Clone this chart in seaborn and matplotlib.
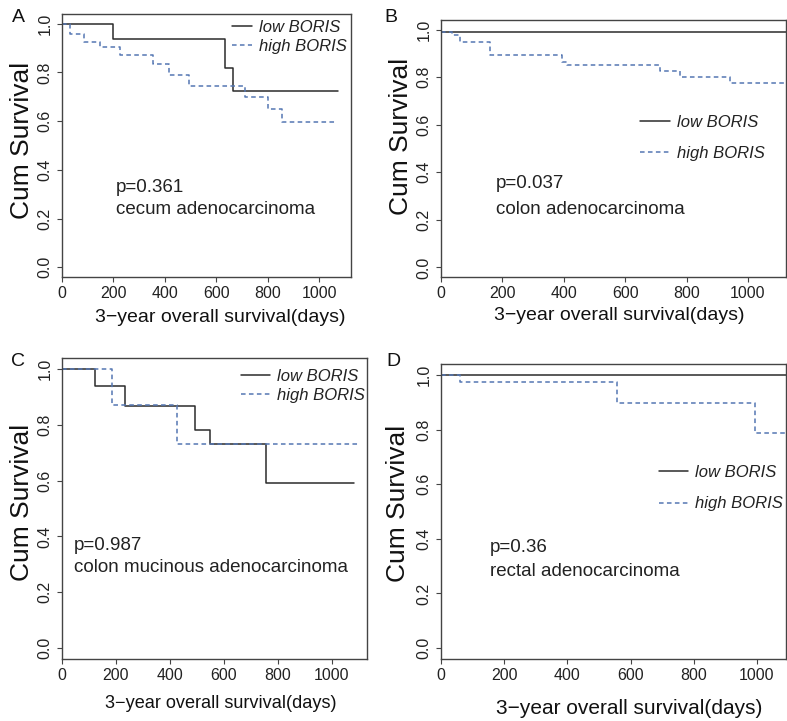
import numpy as np
import pandas as pd
import matplotlib
matplotlib.use("Agg")
import matplotlib.pyplot as plt
import seaborn as sns

# ---------------- data ----------------
groups = ["low BORIS", "high BORIS"]
x_ticks = [0, 200, 400, 600, 800, 1000]
y_ticks = [0.0, 0.2, 0.4, 0.6, 0.8, 1.0]

# Panel A: cecum adenocarcinoma
a_low_days = [0, 200, 634, 664, 1074]
a_low_surv = [1.0, 0.937, 0.819, 0.722, 0.722]
a_high_days = [0, 32, 84, 149, 226, 353, 418, 495, 712, 800, 854, 1067]
a_high_surv = [1.0, 0.958, 0.927, 0.903, 0.873, 0.834, 0.791, 0.746, 0.698, 0.650, 0.596, 0.596]

# Panel B: colon adenocarcinoma
b_low_days = [0, 1124]
b_low_surv = [0.988, 0.988]
b_high_days = [0, 35, 62, 159, 393, 409, 713, 778, 940, 1124]
b_high_surv = [0.988, 0.976, 0.948, 0.892, 0.865, 0.850, 0.827, 0.800, 0.776, 0.776]

# Panel C: colon mucinous adenocarcinoma
c_low_days = [0, 121, 234, 493, 548, 757, 1080]
c_low_surv = [1.0, 0.938, 0.866, 0.781, 0.730, 0.592, 0.592]
c_high_days = [0, 185, 425, 1102]
c_high_surv = [1.0, 0.872, 0.730, 0.730]

# Panel D: rectal adenocarcinoma
d_low_days = [0, 1092]
d_low_surv = [1.0, 1.0]
d_high_days = [0, 60, 556, 993, 1092]
d_high_surv = [1.0, 0.973, 0.899, 0.786, 0.786]

letters = ["A", "B", "C", "D"]
p_texts = ["p=0.361", "p=0.037", "p=0.987", "p=0.36"]
sub_texts = ["cecum adenocarcinoma", "colon adenocarcinoma",
             "colon mucinous adenocarcinoma", "rectal adenocarcinoma"]

# ---------------- style ----------------
sns.set_style("white")
plt.rcParams["font.family"] = ["Liberation Sans", "DejaVu Sans"]

W, H = 787, 721
fig = plt.figure(figsize=(W / 100, H / 100), dpi=100)

def fx(px):
    return px / W

def fy(py):
    return 1 - py / H

LOW_C = "#2b2b2b"
HIGH_C = "#5577b3"
FRAME_C = "#444444"

# layout in pixels
panels = [
    dict(l=62, r=351, t=14, b=277, xmax=1124,
         low=(a_low_days, a_low_surv), high=(a_high_days, a_high_surv),
         leg=(232, 37, 20, 0.27), ann=(116, 187, 209),
         xlab=(220, 318, 14.0), ylab=(22, 140), letter=(18, 17)),
    dict(l=441, r=786, t=20, b=277, xmax=1124,
         low=(b_low_days, b_low_surv), high=(b_high_days, b_high_surv),
         leg=(640, 138, 30, 0.95), ann=(496, 184, 209),
         xlab=(619, 316, 14.0), ylab=(401, 136), letter=(391, 17)),
    dict(l=62, r=367, t=358, b=659, xmax=1130,
         low=(c_low_days, c_low_surv), high=(c_high_days, c_high_surv),
         leg=(241, 386, 29, 0.24), ann=(74, 546, 568),
         xlab=(221, 704, 13.1), ylab=(22, 502), letter=(18, 362)),
    dict(l=441, r=786, t=364, b=659, xmax=1092,
         low=(d_low_days, d_low_surv), high=(d_high_days, d_high_surv),
         leg=(659, 488, 29, 1.0), ann=(490, 548, 572),
         xlab=(629, 708, 15.0), ylab=(398, 503), letter=(393, 362)),
]

for i, p in enumerate(panels):
    ax = fig.add_axes([fx(p["l"]), fy(p["b"]), fx(p["r"] - p["l"]), (p["b"] - p["t"]) / H])
    df = pd.concat([
        pd.DataFrame({"day": p["low"][0], "surv": p["low"][1], "group": groups[0]}),
        pd.DataFrame({"day": p["high"][0], "surv": p["high"][1], "group": groups[1]}),
    ], ignore_index=True)
    sns.lineplot(data=df, x="day", y="surv", hue="group", style="group",
                 hue_order=groups, style_order=groups,
                 palette={groups[0]: LOW_C, groups[1]: HIGH_C},
                 dashes={groups[0]: "", groups[1]: (3, 2.2)},
                 drawstyle="steps-post", estimator=None, sort=True,
                 linewidth=1.1, legend=False, ax=ax)
    ax.set_xlim(0, p["xmax"])
    ax.set_ylim(-0.04, 1.04)
    ax.set_xticks(x_ticks)
    ax.set_yticks(y_ticks)
    ax.set_xticklabels([str(v) for v in x_ticks])
    ax.set_yticklabels([f"{v:.1f}" for v in y_ticks], rotation=90, va="center")
    ax.tick_params(axis="both", direction="out", length=3.6, width=0.8,
                   color=FRAME_C, labelcolor="#222222", labelsize=11.5, pad=3,
                   bottom=True, left=True)
    ax.set_xlabel("")
    ax.set_ylabel("")
    for s in ax.spines.values():
        s.set_visible(True)
        s.set_color(FRAME_C)
        s.set_linewidth(1.0)

    # legend
    lines = ax.get_lines()[:2]
    lx, ly, hl_px, lsp = p["leg"]
    ax.legend(lines, groups, loc="center left",
              bbox_to_anchor=(fx(lx), fy(ly)), bbox_transform=fig.transFigure,
              frameon=False, borderpad=0, borderaxespad=0,
              handlelength=hl_px / 16.7, handletextpad=0.45, labelspacing=lsp,
              prop={"family": "Liberation Sans", "style": "italic", "size": 12},
              labelcolor="#222222")

    # annotations
    axx, ay1, ay2 = p["ann"]
    fig.text(fx(axx), fy(ay1), p_texts[i], fontsize=13.5, color="#222222",
             ha="left", va="center")
    fig.text(fx(axx), fy(ay2), sub_texts[i], fontsize=13.5, color="#222222",
             ha="left", va="center")

    # axis titles
    xx, xy, xs = p["xlab"]
    fig.text(fx(xx), fy(xy), "3\u2212year overall survival(days)", fontsize=xs,
             color="#111111", ha="center", va="center")
    yx, yy = p["ylab"]
    fig.text(fx(yx), fy(yy), "Cum Survival", fontsize=19, color="#111111",
             rotation=90, ha="center", va="center")

    # panel letter
    lx2, ly2 = p["letter"]
    fig.text(fx(lx2), fy(ly2), letters[i], fontsize=14, color="#111111",
             ha="center", va="center")

fig.savefig("out.png", dpi=100, facecolor="white")
